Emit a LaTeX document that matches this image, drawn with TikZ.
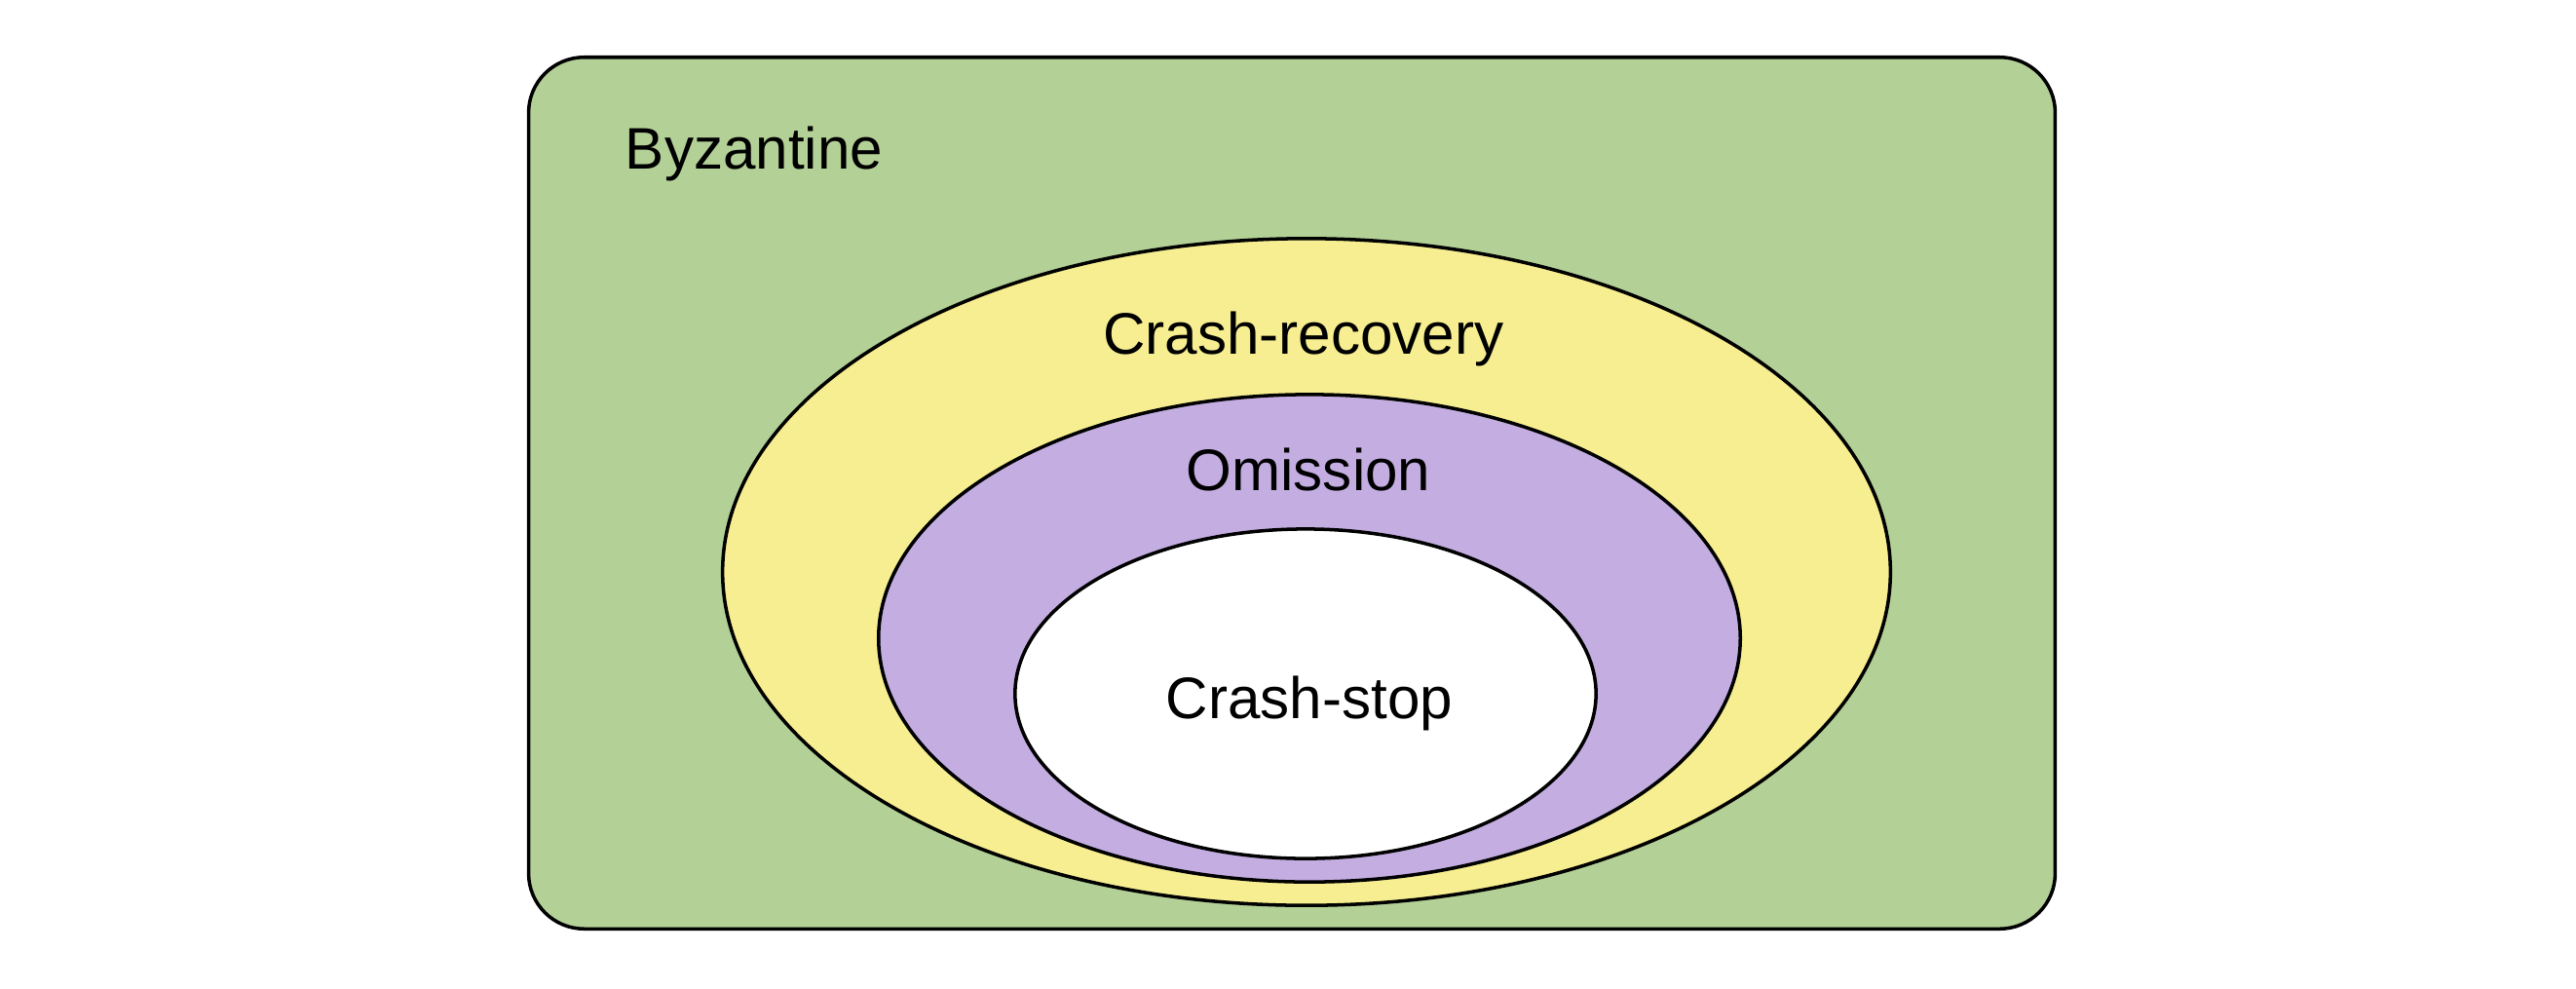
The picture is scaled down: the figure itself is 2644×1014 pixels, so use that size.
\documentclass[tikz,border=0pt]{standalone}
\usepackage{fontspec}
\setmainfont{Liberation Sans}
\usepackage{tikz}
\usetikzlibrary{shapes.geometric}
\usepackage{xcolor}
\definecolor{byzgreen}{RGB}{179,208,151}
\definecolor{recyellow}{RGB}{246,238,144}
\definecolor{omipurple}{RGB}{195,173,225}

\begin{document}
\begin{tikzpicture}[x=0.01cm,y=-0.01cm,
  region/.style={draw,line width=1pt,inner sep=0pt},
  zone/.style={region,ellipse},
  lbl/.style={anchor=base,font=\fontsize{17.1}{20}\selectfont}]
\useasboundingbox (0,0) rectangle (2644,1014);
\node (byz) [region,fill=byzgreen,rounded corners=0.57cm,minimum width=15.66cm,minimum height=8.94cm] at (1326,506) {};
\node (rec) [zone,fill=recyellow,minimum width=11.98cm,minimum height=6.84cm] at (1341,587) {};
\node (omi) [zone,fill=omipurple,minimum width=8.84cm,minimum height=5.00cm] at (1344,655) {};
\node (stop) [zone,fill=white,minimum width=5.96cm,minimum height=3.38cm] at (1340,712) {};
\node (byzlbl) [lbl] at (774,173) {Byzantine};
\node (reclbl) [lbl] at (1338,363) {Crash-recovery};
\node (omilbl) [lbl] at (1343,503) {Omission};
\node (stoplbl) [lbl] at (1344,737) {Crash-stop};
\end{tikzpicture}
\end{document}
